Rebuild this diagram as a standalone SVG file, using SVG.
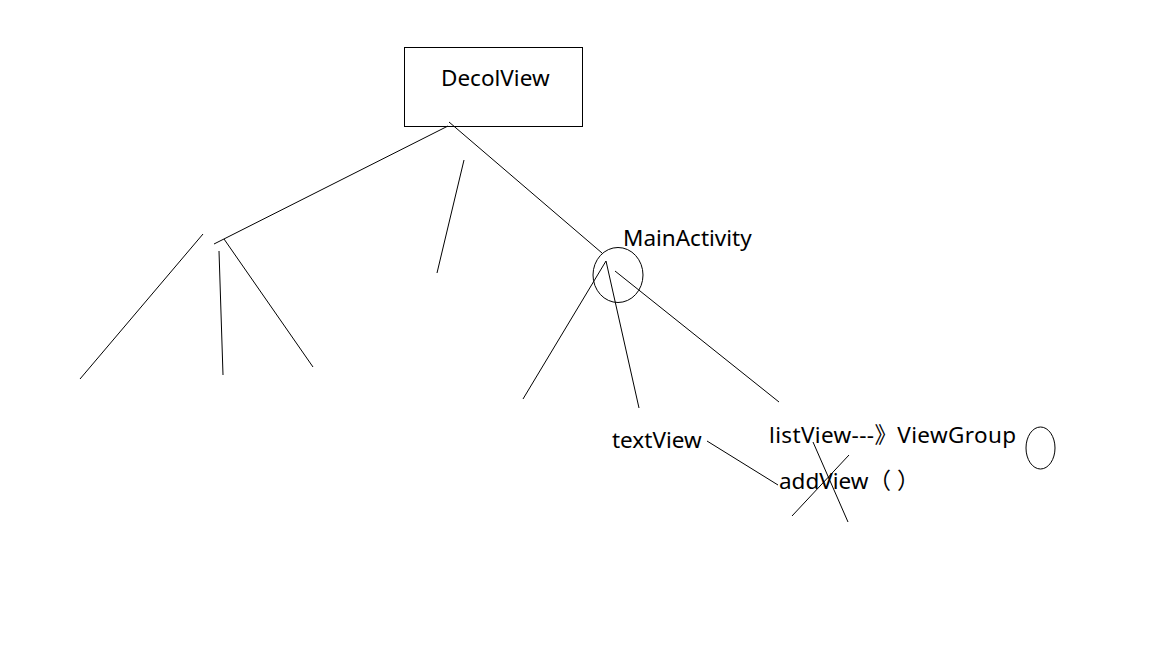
<svg xmlns="http://www.w3.org/2000/svg" width="1152" height="648" viewBox="0 0 1152 648">
<style>
.ln{stroke:#000;stroke-width:1;fill:none}
.sh{stroke:#000;stroke-width:1;fill:none}
.t{font-family:"Noto Sans","Noto Sans CJK SC",sans-serif;font-size:22.5px;fill:#000}
</style>
<rect width="1152" height="648" fill="#fff"/>
<g id="decolview">
<rect class="sh" x="404.5" y="47.5" width="178" height="79"/>
<text class="t" x="441" y="86">DecolView</text>
</g>
<g id="mainactivity">
<ellipse class="sh" cx="618" cy="275" rx="25" ry="27.5"/>
<text class="t" x="623" y="246">MainActivity</text>
</g>
<g id="textview">
<text class="t" x="612" y="448">textView</text>
</g>
<g id="listview">
<text class="t" x="769" y="443" textLength="247" lengthAdjust="spacing">listView---》ViewGroup</text>
</g>
<g id="addview">
<text class="t" x="779" y="489">addView（ ）</text>
</g>
<g id="viewgroup-circle">
<ellipse class="sh" cx="1040.5" cy="448" rx="14.5" ry="21"/>
</g>
<g id="connectors">
<line class="ln" x1="448" y1="126" x2="214" y2="244"/>
<line class="ln" x1="449" y1="122" x2="602" y2="253"/>
<line class="ln" x1="464" y1="160" x2="437" y2="273"/>
<line class="ln" x1="203" y1="234" x2="80" y2="379"/>
<line class="ln" x1="219" y1="251" x2="223" y2="375"/>
<line class="ln" x1="224" y1="239" x2="313" y2="367"/>
<line class="ln" x1="606" y1="261" x2="523" y2="399"/>
<line class="ln" x1="606" y1="261" x2="639" y2="408"/>
<line class="ln" x1="615" y1="271" x2="779" y2="402"/>
<line class="ln" x1="707" y1="441" x2="778" y2="485"/>
<line class="ln" x1="813" y1="442" x2="848" y2="522"/>
<line class="ln" x1="849" y1="455" x2="792" y2="516"/>
</g>
</svg>
